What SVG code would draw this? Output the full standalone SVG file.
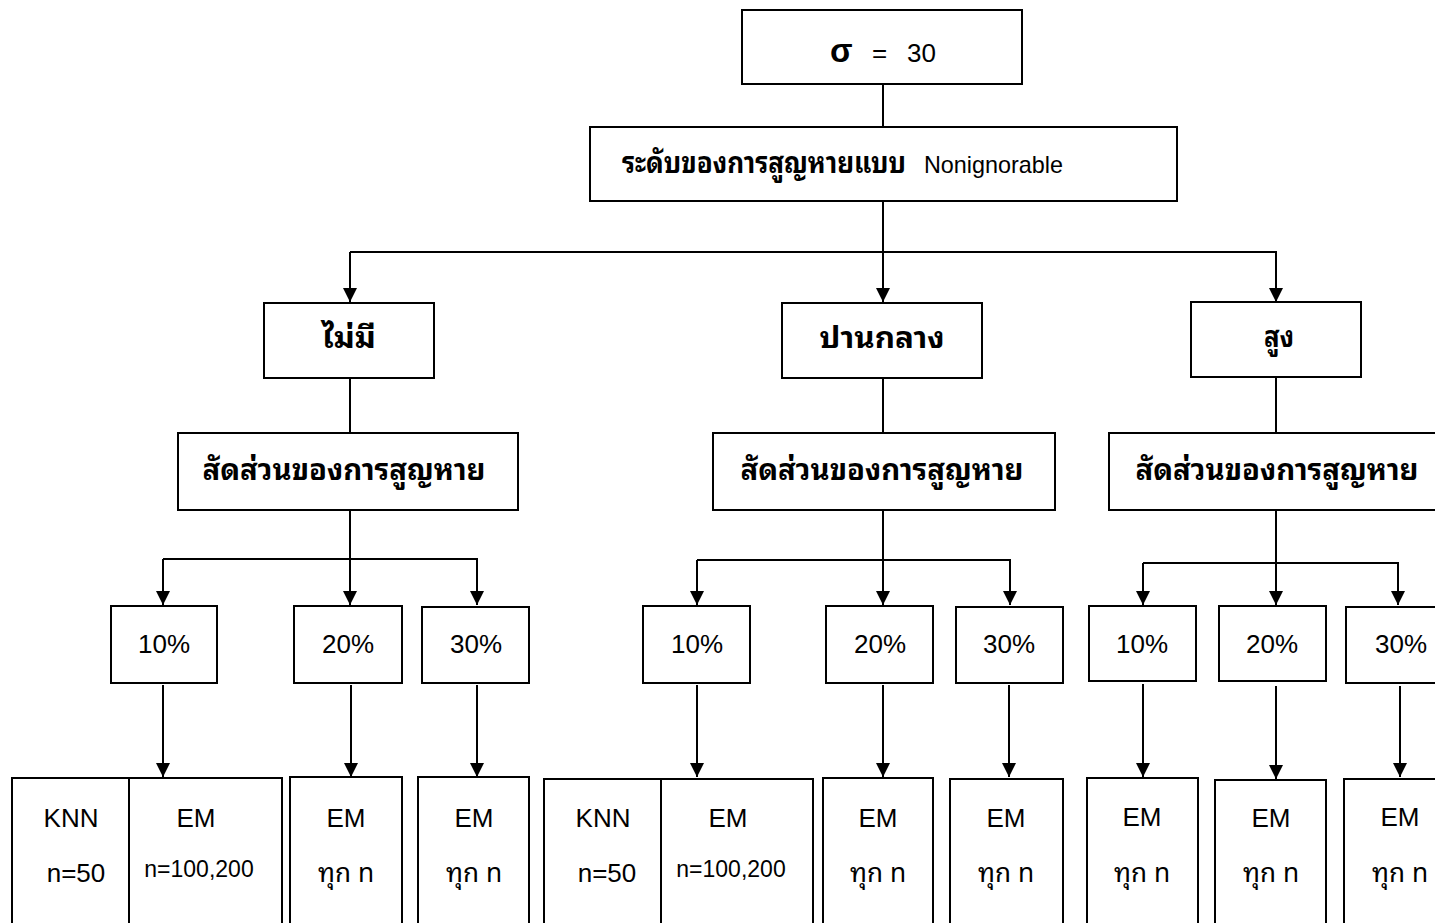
<svg xmlns="http://www.w3.org/2000/svg" width="1435" height="923" viewBox="0 0 1435 923">
<defs>
<marker id="ah" viewBox="0 0 10 10" markerUnits="userSpaceOnUse" markerWidth="14" markerHeight="14" refX="10" refY="5" orient="auto">
<path d="M0,0 L10,5 L0,10 z" fill="#000"/>
</marker>
</defs>
<style>
.box{fill:#fff;stroke:#000;stroke-width:2}
.ln{fill:none;stroke:#000;stroke-width:2}
.ar{fill:none;stroke:#000;stroke-width:2;marker-end:url(#ah)}
text{font-family:"Liberation Sans","Noto Sans Thai Looped","Noto Sans Thai","Noto Sans",sans-serif;fill:#000;text-anchor:middle}
text.st{text-anchor:start}
.th{font-family:"Noto Sans Thai Looped","Noto Sans Thai","Noto Sans","Liberation Sans",sans-serif;font-weight:bold;font-size:29px}
.pc{font-size:26px}
.md{font-size:26px}
.sm{font-size:23px}
.tn{font-family:"Noto Sans Thai Looped","Noto Sans Thai","Liberation Sans","Noto Sans",sans-serif;font-size:27px}
</style>
<rect width="1435" height="923" fill="#fff"/>
<g id="connectors">
<line class="ln" x1="883" y1="84" x2="883" y2="127"/>
<path class="ln" d="M883,201 V252"/>
<path class="ar" d="M350,252 H1276 V302"/>
<path class="ar" d="M350,252 V302"/>
<path class="ar" d="M883,252 V302"/>
<line class="ln" x1="350" y1="378" x2="350" y2="433"/>
<line class="ln" x1="883" y1="378" x2="883" y2="433"/>
<line class="ln" x1="1276" y1="377" x2="1276" y2="433"/>
<path class="ln" d="M350,510 V559"/>
<path class="ar" d="M163,559 H477 V605"/>
<path class="ar" d="M163,559 V605"/>
<path class="ar" d="M350,559 V605"/>
<path class="ln" d="M883,510 V560"/>
<path class="ar" d="M697,560 H1010 V605"/>
<path class="ar" d="M697,560 V605"/>
<path class="ar" d="M883,560 V605"/>
<path class="ln" d="M1276,510 V563"/>
<path class="ar" d="M1143,563 H1398 V605"/>
<path class="ar" d="M1143,563 V605"/>
<path class="ar" d="M1276,563 V605"/>
<path class="ar" d="M163,685 V777"/>
<path class="ar" d="M351,685 V777"/>
<path class="ar" d="M477,685 V777"/>
<path class="ar" d="M697,685 V777"/>
<path class="ar" d="M883,685 V777"/>
<path class="ar" d="M1009,685 V777"/>
<path class="ar" d="M1143,684 V777"/>
<path class="ar" d="M1276,686 V779"/>
<path class="ar" d="M1400,686 V777"/>
</g>
<g id="n-sigma">
<rect class="box" x="742" y="10" width="280" height="74"/>
<text class="st" x="830" y="62" font-family="Liberation Serif" font-weight="bold" font-size="33">σ</text>
<text class="st" x="872" y="62" font-size="26">=</text>
<text class="st" x="907" y="62" font-size="26">30</text>
</g>
<g id="n-level">
<rect class="box" x="590" y="127" width="587" height="74"/>
<text class="th st" x="622" y="173" font-size="27" textLength="284" lengthAdjust="spacingAndGlyphs">ระดับของการสูญหายแบบ</text>
<text class="st" x="924" y="173" font-size="24" textLength="139" lengthAdjust="spacingAndGlyphs">Nonignorable</text>
</g>
<g id="n-none">
<rect class="box" x="264" y="303" width="170" height="75"/>
<text class="th" x="349" y="348" font-size="31" textLength="54" lengthAdjust="spacingAndGlyphs">ไม่มี</text>
</g>
<g id="n-mid">
<rect class="box" x="782" y="303" width="200" height="75"/>
<text class="th" x="882" y="348" font-size="31" textLength="125" lengthAdjust="spacingAndGlyphs">ปานกลาง</text>
</g>
<g id="n-high">
<rect class="box" x="1191" y="302" width="170" height="75"/>
<text class="th" x="1279" y="347" font-size="31" textLength="30" lengthAdjust="spacingAndGlyphs">สูง</text>
</g>
<g id="n-prop1">
<rect class="box" x="178" y="433" width="340" height="77"/>
<text class="th" x="344" y="480" textLength="283" lengthAdjust="spacingAndGlyphs">สัดส่วนของการสูญหาย</text>
</g>
<g id="n-prop2">
<rect class="box" x="713" y="433" width="342" height="77"/>
<text class="th" x="882" y="480" textLength="283" lengthAdjust="spacingAndGlyphs">สัดส่วนของการสูญหาย</text>
</g>
<g id="n-prop3">
<rect class="box" x="1109" y="433" width="340" height="77"/>
<text class="th" x="1277" y="480" textLength="283" lengthAdjust="spacingAndGlyphs">สัดส่วนของการสูญหาย</text>
</g>
<g id="n-a10"><rect class="box" x="111" y="606" width="106" height="77"/><text class="pc" x="164" y="653">10%</text></g>
<g id="n-a20"><rect class="box" x="294" y="606" width="108" height="77"/><text class="pc" x="348" y="653">20%</text></g>
<g id="n-a30"><rect class="box" x="422" y="607" width="107" height="76"/><text class="pc" x="476" y="653">30%</text></g>
<g id="n-b10"><rect class="box" x="643" y="606" width="107" height="77"/><text class="pc" x="697" y="653">10%</text></g>
<g id="n-b20"><rect class="box" x="826" y="606" width="107" height="77"/><text class="pc" x="880" y="653">20%</text></g>
<g id="n-b30"><rect class="box" x="956" y="607" width="107" height="76"/><text class="pc" x="1009" y="653">30%</text></g>
<g id="n-c10"><rect class="box" x="1089" y="606" width="107" height="75"/><text class="pc" x="1142" y="653">10%</text></g>
<g id="n-c20"><rect class="box" x="1219" y="606" width="107" height="75"/><text class="pc" x="1272" y="653">20%</text></g>
<g id="n-c30"><rect class="box" x="1346" y="607" width="107" height="76"/><text class="pc" x="1401" y="653">30%</text></g>
<g id="n-a10m">
<rect class="box" x="12" y="778" width="270" height="160"/>
<line class="ln" x1="129" y1="778" x2="129" y2="938"/>
<text class="md" x="71" y="827">KNN</text>
<text class="md" x="76" y="882">n=50</text>
<text class="md" x="196" y="827">EM</text>
<text class="sm" x="199" y="877">n=100,200</text>
</g>
<g id="n-a20m"><rect class="box" x="290" y="777" width="112" height="160"/><text class="md" x="346" y="827">EM</text><text class="tn" x="346" y="882" textLength="56" lengthAdjust="spacingAndGlyphs">ทุก n</text></g>
<g id="n-a30m"><rect class="box" x="418" y="777" width="111" height="160"/><text class="md" x="474" y="827">EM</text><text class="tn" x="474" y="882" textLength="56" lengthAdjust="spacingAndGlyphs">ทุก n</text></g>
<g id="n-b10m">
<rect class="box" x="544" y="779" width="269" height="160"/>
<line class="ln" x1="661" y1="779" x2="661" y2="939"/>
<text class="md" x="603" y="827">KNN</text>
<text class="md" x="607" y="882">n=50</text>
<text class="md" x="728" y="827">EM</text>
<text class="sm" x="731" y="877">n=100,200</text>
</g>
<g id="n-b20m"><rect class="box" x="823" y="778" width="110" height="160"/><text class="md" x="878" y="827">EM</text><text class="tn" x="878" y="882" textLength="56" lengthAdjust="spacingAndGlyphs">ทุก n</text></g>
<g id="n-b30m"><rect class="box" x="950" y="779" width="113" height="160"/><text class="md" x="1006" y="827">EM</text><text class="tn" x="1006" y="882" textLength="56" lengthAdjust="spacingAndGlyphs">ทุก n</text></g>
<g id="n-c10m"><rect class="box" x="1087" y="778" width="111" height="160"/><text class="md" x="1142" y="826">EM</text><text class="tn" x="1142" y="882" textLength="56" lengthAdjust="spacingAndGlyphs">ทุก n</text></g>
<g id="n-c20m"><rect class="box" x="1215" y="780" width="111" height="160"/><text class="md" x="1271" y="827">EM</text><text class="tn" x="1271" y="882" textLength="56" lengthAdjust="spacingAndGlyphs">ทุก n</text></g>
<g id="n-c30m"><rect class="box" x="1344" y="779" width="111" height="160"/><text class="md" x="1400" y="826">EM</text><text class="tn" x="1400" y="882" textLength="56" lengthAdjust="spacingAndGlyphs">ทุก n</text></g>
</svg>
